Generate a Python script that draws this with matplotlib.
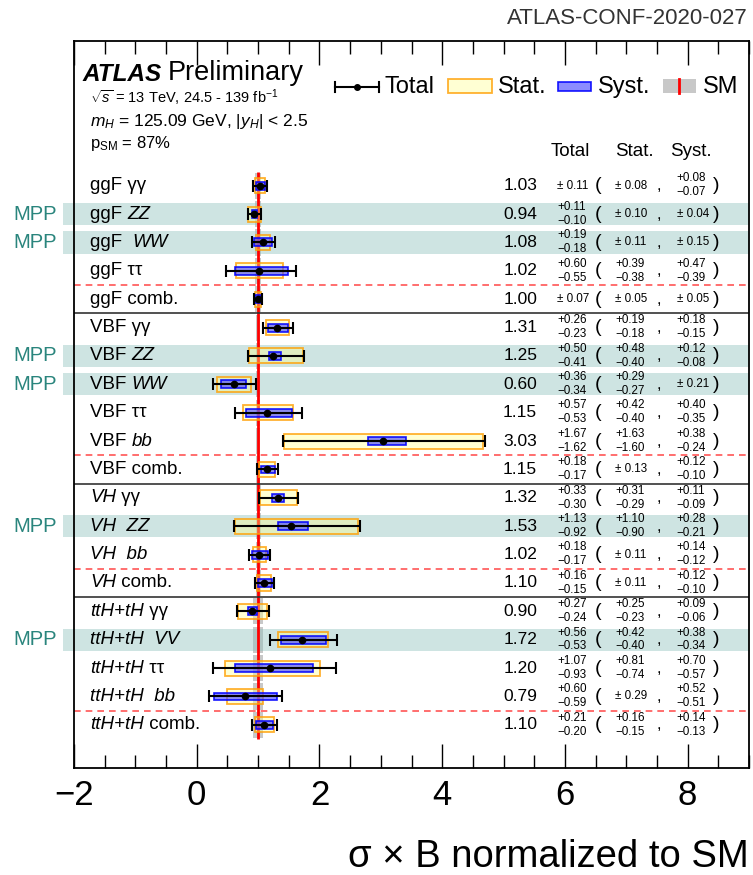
import numpy as np
import matplotlib.pyplot as plt
import matplotlib.transforms as mtransforms
from matplotlib.patches import Rectangle
from matplotlib.ticker import MultipleLocator

plt.rcParams['font.family'] = ['Liberation Sans', 'DejaVu Sans']
plt.rcParams['mathtext.fontset'] = 'custom'
plt.rcParams['mathtext.rm'] = 'Liberation Sans'
plt.rcParams['mathtext.it'] = 'Liberation Sans:italic'
plt.rcParams['mathtext.bf'] = 'Liberation Sans:bold'

# row labels as (text, italic) pieces
labels = [
    [('ggF γγ', False)],
    [('ggF ', False), ('ZZ', True)],
    [('ggF  ', False), ('WW', True)],
    [('ggF ττ', False)],
    [('ggF comb.', False)],
    [('VBF γγ', False)],
    [('VBF ', False), ('ZZ', True)],
    [('VBF ', False), ('WW', True)],
    [('VBF ττ', False)],
    [('VBF ', False), ('bb', True)],
    [('VBF comb.', False)],
    [('VH', True), (' γγ', False)],
    [('VH  ZZ', True)],
    [('VH  bb', True)],
    [('VH', True), (' comb.', False)],
    [('ttH+tH', True), (' γγ', False)],
    [('ttH+tH  VV', True)],
    [('ttH+tH', True), (' ττ', False)],
    [('ttH+tH  bb', True)],
    [('ttH+tH', True), (' comb.', False)],
]
group_sizes = [5, 6, 4, 5]

mu      = [1.03, 0.94, 1.08, 1.02, 1.00, 1.31, 1.25, 0.60, 1.15, 3.03,
           1.15, 1.32, 1.53, 1.02, 1.10, 0.90, 1.72, 1.20, 0.79, 1.10]
tot_hi  = [0.11, 0.11, 0.19, 0.60, 0.07, 0.26, 0.50, 0.36, 0.57, 1.67,
           0.18, 0.33, 1.13, 0.18, 0.16, 0.27, 0.56, 1.07, 0.60, 0.21]
tot_lo  = [0.11, 0.10, 0.18, 0.55, 0.07, 0.23, 0.41, 0.34, 0.53, 1.62,
           0.17, 0.30, 0.92, 0.17, 0.15, 0.24, 0.53, 0.93, 0.59, 0.20]
stat_hi = [0.08, 0.10, 0.11, 0.39, 0.05, 0.19, 0.48, 0.29, 0.42, 1.63,
           0.13, 0.31, 1.10, 0.11, 0.11, 0.25, 0.42, 0.81, 0.29, 0.16]
stat_lo = [0.08, 0.10, 0.11, 0.38, 0.05, 0.18, 0.40, 0.27, 0.40, 1.60,
           0.13, 0.29, 0.90, 0.11, 0.11, 0.23, 0.40, 0.74, 0.29, 0.15]
syst_hi = [0.08, 0.04, 0.15, 0.47, 0.05, 0.18, 0.12, 0.21, 0.40, 0.38,
           0.12, 0.11, 0.28, 0.14, 0.12, 0.09, 0.38, 0.70, 0.52, 0.14]
syst_lo = [0.07, 0.04, 0.15, 0.39, 0.05, 0.15, 0.08, 0.21, 0.35, 0.24,
           0.10, 0.09, 0.21, 0.12, 0.10, 0.06, 0.34, 0.57, 0.51, 0.13]
# theory uncertainty on the SM prediction (grey band)
sm_unc  = [0.05, 0.05, 0.05, 0.05, 0.05, 0.03, 0.03, 0.03, 0.03, 0.03,
           0.03, 0.04, 0.04, 0.04, 0.04, 0.08, 0.08, 0.08, 0.08, 0.08]
mpp = [False, True, True, False, False, False, True, True, False, False,
       False, False, True, False, False, False, True, False, False, False]

n = len(mu)
y = np.arange(n)

stat_fc = (1.0, 1.0, 0.55, 0.38)
stat_ec = (1.0, 0.62, 0.0, 0.8)
syst_fc = (0.25, 0.25, 1.0, 0.6)
syst_ec = (0.0, 0.0, 1.0, 0.9)
band_fc = (0.55, 0.75, 0.73, 0.42)
mpp_col = '#2a857d'
sm_grey = '#c8c8c8'

fig = plt.figure(figsize=(7.53, 8.75), dpi=100)
ax = fig.add_axes([74/753, 1-768/875, 675/753, 727/875])
ax.set_xlim(-2, 9)
ax.set_ylim(20.52, -5.10)
blend = mtransforms.blended_transform_factory(ax.transAxes, ax.transData)

# SM grey bands and red line
for i in range(n):
    ax.add_patch(Rectangle((1 - sm_unc[i], i - 0.46), 2*sm_unc[i], 0.92,
                           fc=sm_grey, lw=0, zorder=1))
ax.vlines(1, -0.5, n - 0.5, color='red', lw=2, zorder=2)

# MPP highlight bands
for i in range(n):
    if mpp[i]:
        ax.add_patch(Rectangle((-0.0163, i - 0.39), 1.0163, 0.78, transform=blend,
                               fc=band_fc, lw=0, zorder=1.5, clip_on=False))
        ax.text(-0.025, i, 'MPP', transform=blend, ha='right', va='center',
                fontsize=14.5, color=mpp_col)

# group separators
bounds = np.cumsum(group_sizes)
for b in bounds[:-1]:
    ax.axhline(b - 0.5, color='#333333', lw=1.2, zorder=2)
for b in bounds:
    ax.axhline(b - 1.5, color='#ff5555', lw=1.2, ls=(0, (4, 3)), zorder=2)

# stat and syst boxes
for i in range(n):
    ax.add_patch(Rectangle((mu[i] - stat_lo[i], i - 0.265), stat_lo[i] + stat_hi[i], 0.53,
                           fc=stat_fc, ec=stat_ec, lw=1.3, zorder=3))
    ax.add_patch(Rectangle((mu[i] - syst_lo[i], i - 0.14), syst_lo[i] + syst_hi[i], 0.28,
                           fc=syst_fc, ec=syst_ec, lw=1.2, zorder=4))

ax.errorbar(mu, y, xerr=[tot_lo, tot_hi], fmt='o', color='black', ms=4.5,
            elinewidth=1.5, capsize=4, capthick=1.5, zorder=5)


def draw_label(x, yy, parts, size):
    prev = None
    for txt, italic in parts:
        st = 'italic' if italic else 'normal'
        if prev is None:
            prev = ax.text(x, yy, txt, transform=blend, fontsize=size, style=st,
                           ha='left', va='center')
        else:
            prev = ax.annotate(txt, xy=(1, 0), xycoords=prev, xytext=(0, 0),
                               textcoords='offset points', fontsize=size, style=st,
                               ha='left', va='bottom')


def unc_text(xf, yy, hi, lo, size):
    if f'{hi:.2f}' == f'{lo:.2f}':
        ax.text(xf, yy, f'± {hi:.2f}', transform=blend, fontsize=size,
                ha='left', va='center')
    else:
        ax.text(xf, yy - 0.255, f'+{hi:.2f}', transform=blend, fontsize=size,
                ha='left', va='center')
        ax.text(xf, yy + 0.235, f'−{lo:.2f}', transform=blend, fontsize=size,
                ha='left', va='center')


for i in range(n):
    draw_label(0.0237, i, labels[i], 13.5)
    ax.text(0.661, i, f'{mu[i]:.2f}', transform=blend, fontsize=12.5,
            ha='center', va='center')
    unc_text(0.7156, i, tot_hi[i], tot_lo[i], 8.4)
    ax.text(0.776, i, '(', transform=blend, fontsize=14, ha='center', va='center')
    unc_text(0.8015, i, stat_hi[i], stat_lo[i], 8.4)
    ax.text(0.866, i, ',', transform=blend, fontsize=12, ha='center', va='center')
    unc_text(0.893, i, syst_hi[i], syst_lo[i], 8.4)
    ax.text(0.952, i, ')', transform=blend, fontsize=14, ha='center', va='center')

# column header
hy = 0.848
ax.text(0.735, hy, 'Total', transform=ax.transAxes, fontsize=13.5, ha='center', va='center')
ax.text(0.830, hy, 'Stat.', transform=ax.transAxes, fontsize=13.5, ha='center', va='center')
ax.text(0.914, hy, 'Syst.', transform=ax.transAxes, fontsize=13.5, ha='center', va='center')

# ATLAS label
atl = ax.text(0.0133, 0.945, 'ATLAS', transform=ax.transAxes, fontsize=17.5,
              fontweight='bold', style='italic', va='baseline')
ax.annotate('Preliminary', xy=(1, 0), xycoords=atl, xytext=(4, 0),
            textcoords='offset points', fontsize=19.5, va='bottom')
ax.text(0.024, 0.9147, r'$\sqrt{s}$ = 13 TeV, 24.5 - 139 fb$^{-1}$', transform=ax.transAxes,
        fontsize=10.5, va='baseline')
ax.text(0.024, 0.883, r'$m_{H}$ = 125.09 GeV, |$y_{H}$| < 2.5', transform=ax.transAxes,
        fontsize=12.5, va='baseline')
ax.text(0.024, 0.853, r'p$_{\mathrm{SM}}$ = 87%', transform=ax.transAxes,
        fontsize=12, va='baseline')

# legend keys
ly = 0.9367
ax.plot([0.3867, 0.4519], [ly, ly], color='black', lw=1.5, transform=ax.transAxes)
ax.plot([0.3867, 0.3867], [ly - 0.0075, ly + 0.0075], color='black', lw=1.5, transform=ax.transAxes)
ax.plot([0.4519, 0.4519], [ly - 0.0075, ly + 0.0075], color='black', lw=1.5, transform=ax.transAxes)
ax.plot([0.4193], [ly], 'o', color='black', ms=4, transform=ax.transAxes)
ax.text(0.4607, ly, 'Total', transform=ax.transAxes, fontsize=17, va='center')
ax.add_patch(Rectangle((0.5541, 0.9285), 0.0652, 0.0192, transform=ax.transAxes,
                       fc=stat_fc, ec=stat_ec, lw=1.3))
ax.text(0.6281, ly, 'Stat.', transform=ax.transAxes, fontsize=17, va='center')
ax.add_patch(Rectangle((0.7170, 0.9312), 0.0489, 0.0124, transform=ax.transAxes,
                       fc=syst_fc, ec=syst_ec, lw=1.2))
ax.text(0.7763, ly, 'Syst.', transform=ax.transAxes, fontsize=17, va='center')
ax.add_patch(Rectangle((0.8726, 0.9285), 0.0489, 0.0192, transform=ax.transAxes,
                       fc=sm_grey, lw=0))
ax.plot([0.8963, 0.8963], [0.9285, 0.9477], color='red', lw=2, transform=ax.transAxes)
ax.text(0.9319, ly, 'SM', transform=ax.transAxes, fontsize=17, va='center')

# axes styling
ax.set_yticks([])
ax.set_xticks(np.arange(-2, 9, 2))
ax.xaxis.set_minor_locator(MultipleLocator(0.5))
ax.tick_params(axis='x', which='both', direction='in', top=True, labelsize=25, pad=8)
ax.tick_params(axis='x', which='major', length=17, width=1)
ax.tick_params(axis='x', which='minor', length=9.5, width=1)
for s in ax.spines.values():
    s.set_linewidth(1.3)

ax.set_xlabel('σ × B normalized to SM', fontsize=27.5, loc='right')
ax.xaxis.set_label_coords(1.0, -0.097)

fig.text(748/753, 1 - 18/875, 'ATLAS-CONF-2020-027', fontsize=16, color='#333333',
         ha='right', va='center')

fig.savefig('out.png', dpi=100)
